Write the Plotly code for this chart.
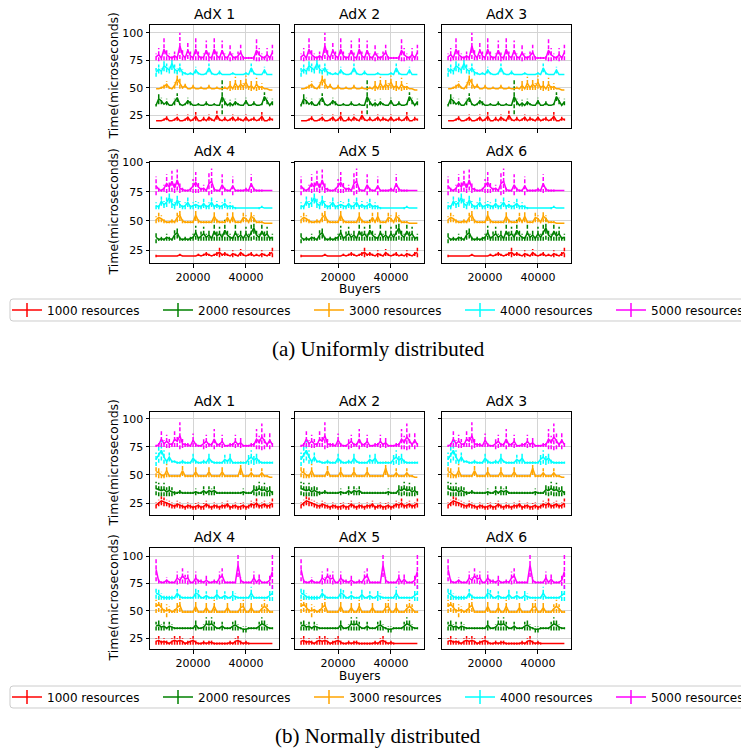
import plotly.graph_objects as go

# ---------------- data ----------------
buyers = [6000, 7000, 8000, 9000, 10000, 11000, 12000, 13000, 14000, 15000,
          16000, 17000, 18000, 19000, 20000, 21000, 22000, 23000, 24000, 25000,
          26000, 27000, 28000, 29000, 30000, 31000, 32000, 33000, 34000, 35000,
          36000, 37000, 38000, 39000, 40000, 41000, 42000, 43000, 44000, 45000,
          46000, 47000, 48000, 49000, 50000]

series_names = ["1000 resources", "2000 resources", "3000 resources",
                "4000 resources", "5000 resources"]

# Uniformly distributed, AdX 1-3
red_u1 = [20,20,20,21,22.5, 20,20,21,23,20, 20,21,23,20,21, 24,20,20,22,20, 23,21,20,25,21, 20,22,20,21,23, 20,22,21,20,23, 20,21,22,20,21, 24,20,20,22,21]
red_u1_err = [0,0,0,1,2, 0,0,1,3,0, 0,1,3,0,1, 4,0,0,2,0, 3,1,0,4,1, 0,2,0,1,3, 0,2,1,0,3, 0,1,2,0,1, 4,0,0,2,1]
green_u1 = [34,40,38,35,37, 34,34,37,41,35, 34,35,38,36,34, 34,35,34,34,36, 34,34,35,34,34, 42,37,34,36,34, 37,35,34,34,38, 34,34,36,34,34, 35,42,38,34,37]
green_u1_err = [1,5,3,0,3, 0,0,3,4,1, 0,1,3,2,0, 0,1,0,0,2, 0,0,1,0,0, 16,3,0,3,0, 3,1,0,0,3, 0,0,2,0,0, 1,4,3,0,3]
orange_u1 = [49,49,50,51,53, 50,49,52,58,54, 50,52,49,49,51, 49,49,50,49,49, 51,49,49,50,49, 49,50,49,52,49, 54,50,53,51,55, 50,52,49,53,50, 51,49,49,48,48]
orange_u1_err = [0,0,1,2,3, 1,0,3,6,5, 1,2,0,0,2, 0,0,1,0,0, 2,0,0,1,0, 0,1,0,5,0, 6,2,5,3,6, 2,5,0,6,2, 3,0,0,0,0]
cyan_u1 = [64,67,65,70,68, 66,72,67,65,68, 64,63,62,63,62, 66,63,62,62,63, 68,63,62,62,64, 62,62,62,62,63, 62,62,62,62,63, 62,68,63,62,62, 62,66,62,62,62]
cyan_u1_err = [4,4,3,5,4, 3,6,4,3,4, 3,1,0,1,0, 3,1,0,0,1, 4,1,0,0,2, 0,0,0,0,1, 0,0,0,0,1, 0,4,1,0,0, 0,3,0,0,0]
magenta_u1 = [78,80,77,85,80, 78,77,79,77,88, 80,77,84,79,77, 85,79,77,78,84, 78,77,85,79,77, 84,78,77,82,78, 77,79,82,77,77, 77,77,77,84,80, 78,77,80,77,82]
magenta_u1_err = [3,6,2,10,5, 3,2,4,2,12, 5,2,8,4,2, 10,4,2,3,9, 4,2,10,4,2, 9,3,2,8,3, 2,4,7,2,1, 1,1,2,10,6, 3,2,6,2,7]

# Uniformly distributed, AdX 4-6
red_u4 = [20,20,20,20,20, 20,20,20,20,21, 20,20,20,20,20, 20,21,20,21,22, 21,20,21,22,23, 21,22,21,20,22, 21,20,23,21,20, 21,22,20,21,20, 22,21,20,22,23]
red_u4_err = [1,0,0,0,0, 0,0,0,0,1, 0,0,0,0,0, 0,1,0,1,2, 1,0,1,2,4, 1,2,1,0,3, 1,0,3,1,0, 1,2,0,1,0, 3,1,0,2,4]
green_u4 = [36,34,35,34,36, 35,34,38,40,35, 34,35,34,35,36, 40,35,37,39,36, 38,35,41,37,39, 36,42,38,36,35, 40,36,38,35,39, 36,40,44,38,36, 41,37,39,35,36]
green_u4_err = [5,1,2,1,3, 2,1,4,5,2, 1,2,1,2,3, 6,2,4,6,3, 5,2,8,4,6, 3,9,5,3,2, 7,3,5,2,6, 3,7,10,5,3, 8,4,6,2,3]
orange_u4 = [51,53,52,50,49, 49,50,49,53,55, 50,49,49,49,49, 55,50,49,49,49, 49,49,54,50,49, 49,49,53,49,54, 49,49,49,53,52, 49,54,52,49,49, 49,48,48,48,48]
orange_u4_err = [3,4,3,2,1, 1,2,1,4,5, 2,1,1,1,1, 5,2,1,1,1, 1,1,5,2,1, 1,1,4,1,5, 1,1,1,4,3, 1,5,3,1,1, 1,0,0,0,0]
cyan_u4 = [63,62,67,64,66, 70,65,63,68,64, 62,63,66,62,63, 64,63,62,65,62, 63,66,62,64,62, 63,65,62,63,62, 61,61,61,61,61, 61,61,61,61,61, 62,61,61,61,61]
cyan_u4_err = [3,2,4,3,4, 5,4,3,5,3, 2,3,4,2,3, 3,3,2,4,2, 3,4,2,3,2, 3,4,2,3,2, 1,0,0,0,0, 0,0,0,0,1, 1,0,0,0,0]
magenta_u4 = [80,77,76,78,82, 79,84,78,85,78, 77,76,76,77,80, 83,79,77,78,76, 82,84,77,76,76, 81,77,76,76,80, 76,76,76,76,77, 76,82,77,76,76, 76,76,76,76,76]
magenta_u4_err = [8,2,1,3,8, 4,9,4,9,4, 2,1,1,2,6, 9,5,2,3,1, 10,11,2,1,1, 9,2,1,1,8, 1,1,1,1,2, 1,8,2,1,1, 1,0,0,0,0]

# Normally distributed, AdX 1-3
red_n1 = [23,25,27,26,25, 24,23,22,24,23, 22,21,23,22,21, 22,23,21,22,24, 22,21,23,22,21, 23,22,24,21,22, 23,21,22,23,21, 22,24,23,25,22, 23,24,22,23,25]
red_n1_err = [3,3,4,4,3, 3,3,2,3,3, 2,2,3,2,2, 3,3,2,3,3, 2,2,3,2,2, 3,2,3,2,2, 3,2,3,3,2, 2,3,3,4,2, 3,3,2,3,4]
green_n1 = [38,37,36,37,35, 36,35,34,34,35, 34,34,34,34,34, 35,34,34,36,34, 36,35,36,34,34, 34,34,34,34,34, 34,34,34,35,34, 34,34,37,36,38, 36,37,35,36,34]
green_n1_err = [6,6,5,6,4, 5,4,2,1,2, 1,1,1,1,1, 3,1,1,4,1, 4,3,4,1,1, 1,1,1,1,1, 1,1,1,3,1, 1,1,5,5,6, 5,6,4,5,2]
orange_n1 = [53,52,50,49,54, 49,49,49,49,49, 54,49,49,49,49, 53,49,49,49,49, 53,49,49,49,49, 53,49,49,49,49, 49,49,56,49,49, 49,52,49,49,49, 52,49,49,48,48]
orange_n1_err = [5,5,3,2,6, 1,1,1,1,1, 5,1,1,1,1, 5,1,1,1,1, 5,1,1,1,1, 5,1,1,1,1, 1,1,6,1,1, 1,4,1,1,1, 4,1,1,0,0]
cyan_n1 = [64,68,72,66,62, 66,62,62,61,61, 62,61,61,61,65, 62,61,61,62,61, 65,62,61,61,61, 61,64,62,65,61, 61,61,61,61,61, 64,66,63,65,62, 61,61,61,61,61]
cyan_n1_err = [6,7,9,6,2, 4,1,1,1,1, 2,1,1,1,4, 2,1,1,2,1, 5,1,1,1,1, 1,4,2,5,1, 1,1,1,1,1, 5,6,4,5,2, 1,1,1,1,1]
magenta_n1 = [76,77,82,78,80, 78,77,82,80,85, 78,77,77,76,81, 77,76,76,78,80, 77,77,82,77,77, 80,76,76,77,77, 80,77,79,76,76, 76,77,77,82,79, 84,80,77,81,77]
magenta_n1_err = [1,2,7,3,6, 4,2,7,5,12, 4,2,2,1,6, 2,1,1,5,6, 2,2,9,2,2, 6,1,1,2,2, 6,2,5,1,1, 1,2,2,9,6, 12,7,2,8,2]

# Normally distributed, AdX 4-6
red_n4 = [22,23,21,22,21, 20,22,23,22,23, 22,20,21,22,23, 21,20,20,21,20, 21,21,20,20,20, 20,20,20,21,20, 22,23,21,20,21, 20,20,20,20,20, 20,20,20,20,20]
red_n4_err = [3,4,2,3,2, 1,3,4,3,4, 3,1,2,3,4, 2,1,1,2,1, 2,2,1,1,1, 1,1,1,2,1, 3,4,2,1,2, 1,0,0,0,0, 0,0,0,0,0]
green_n4 = [36,37,35,36,34, 36,35,34,34,34, 34,34,34,34,34, 37,34,34,35,38, 37,38,36,34,34, 36,34,34,34,36, 37,35,34,33,33, 34,34,34,34,36, 38,37,35,34,34]
green_n4_err = [4,5,3,4,1, 4,3,1,1,1, 1,1,1,1,1, 5,1,1,3,6, 5,6,4,1,1, 4,1,1,1,4, 5,3,1,3,3, 1,1,1,1,4, 6,5,3,1,1]
orange_n4 = [54,56,53,50,50, 51,49,50,53,55, 49,49,49,49,49, 54,49,49,49,53, 49,49,54,49,49, 49,49,53,49,49, 49,49,53,54,49, 49,53,49,49,49, 52,54,52,49,49]
orange_n4_err = [6,7,5,2,6, 3,1,2,5,6, 1,1,1,1,1, 5,1,1,1,5, 1,1,6,1,1, 1,1,5,1,1, 1,1,5,6,1, 1,5,1,1,1, 4,6,4,1,1]
cyan_n4 = [66,65,63,62,62, 62,62,62,66,63, 62,62,62,62,62, 66,65,62,62,64, 62,62,62,65,62, 62,64,62,62,64, 63,62,62,62,62, 62,66,62,62,62, 62,62,62,64,66]
cyan_n4_err = [5,5,3,2,2, 2,2,1,4,2, 1,1,1,1,1, 5,4,1,1,4, 1,1,1,5,1, 1,4,1,1,5, 3,1,1,1,1, 1,6,1,1,1, 1,1,1,5,7]
magenta_n4 = [88,77,76,76,78, 76,76,76,80,78, 82,79,80,76,76, 80,77,77,76,78, 76,76,77,76,80, 82,76,76,76,76, 76,92,78,76,76, 76,76,80,76,79, 76,76,76,78,86]
magenta_n4_err = [11,2,1,1,3, 1,1,1,6,3, 7,4,6,1,1, 6,2,2,1,5, 1,1,2,1,6, 7,1,1,1,1, 1,11,3,1,1, 1,1,6,1,5, 1,1,1,5,16]

# ---------------- checks ----------------
_named = {k: v for k, v in dict(globals()).items()
          if isinstance(v, list) and k not in ("series_names", "buyers")}
_bad = [(k, len(v)) for k, v in _named.items() if len(v) != len(buyers)]
if _bad:
    raise SystemExit("length mismatch: %r" % _bad)

# ---------------- layout helpers ----------------
W, H = 741, 749
def fx(px):
    return px / W
def fy(py):
    return 1 - py / H

colors = ["#ff0000", "#008000", "#ffa500", "#00ffff", "#ff00ff"]
FONT = "DejaVu Sans"

rows = [
    dict(means=[red_u1, green_u1, orange_u1, cyan_u1, magenta_u1],
         errs=[red_u1_err, green_u1_err, orange_u1_err, cyan_u1_err, magenta_u1_err],
         first=1, top=25, bottom=128, yr=[13.4, 107]),
    dict(means=[red_u4, green_u4, orange_u4, cyan_u4, magenta_u4],
         errs=[red_u4_err, green_u4_err, orange_u4_err, cyan_u4_err, magenta_u4_err],
         first=4, top=162, bottom=263, yr=[14, 100.5]),
    dict(means=[red_n1, green_n1, orange_n1, cyan_n1, magenta_n1],
         errs=[red_n1_err, green_n1_err, orange_n1_err, cyan_n1_err, magenta_n1_err],
         first=1, top=412, bottom=515, yr=[14.3, 106.2]),
    dict(means=[red_n4, green_n4, orange_n4, cyan_n4, magenta_n4],
         errs=[red_n4_err, green_n4_err, orange_n4_err, cyan_n4_err, magenta_n4_err],
         first=4, top=548, bottom=649, yr=[15, 107.5]),
]
col_left = [150, 295, 442]
PW = 129
XR = [3700, 52500]


def err_xy(xs, means, errs):
    ex, ey = [], []
    for x, m, e in zip(xs, means, errs):
        if e > 0:
            ex += [x, x, None]
            ey += [m - e, m + e, None]
    return ex, ey


fig = go.Figure()
layout = dict(
    width=W, height=H,
    margin=dict(l=0, r=0, t=0, b=0, autoexpand=False),
    paper_bgcolor="white", plot_bgcolor="white",
    font=dict(family=FONT, size=11, color="black"),
    annotations=[], shapes=[],
)

k = 0
for r, row in enumerate(rows):
    for c in range(3):
        k += 1
        xa = "x%d" % k
        ya = "y%d" % k
        axis_common = dict(
            showline=True, mirror=True, linecolor="black", linewidth=1,
            ticks="outside", ticklen=3.5, tickwidth=1, tickcolor="black",
            showgrid=True, gridcolor="#d4d4d4", gridwidth=1, zeroline=False,
            tickfont=dict(family=FONT, size=11, color="black"),
        )
        layout["xaxis%d" % k] = dict(
            axis_common,
            domain=[fx(col_left[c]), fx(col_left[c] + PW)],
            range=XR, anchor=ya,
            tickvals=[20000, 40000], ticktext=["20000", "40000"],
            showticklabels=(r % 2 == 1),
        )
        layout["yaxis%d" % k] = dict(
            axis_common,
            domain=[fy(row["bottom"]), fy(row["top"])],
            range=row["yr"], anchor=xa,
            tickvals=[25, 50, 75, 100], ticktext=["25", "50", "75", "100"],
            showticklabels=(c == 0),
        )
        for s in range(5):
            ex, ey = err_xy(buyers, row["means"][s], row["errs"][s])
            fig.add_trace(go.Scatter(
                x=ex, y=ey, mode="lines", xaxis=xa, yaxis=ya,
                line=dict(color=colors[s], width=1.5, dash="4px,2px"),
                showlegend=False, hoverinfo="skip"))
            fig.add_trace(go.Scatter(
                x=buyers, y=row["means"][s], mode="lines", xaxis=xa, yaxis=ya,
                line=dict(color=colors[s], width=1.5),
                name=series_names[s], showlegend=False))
        layout["annotations"].append(dict(
            x=fx(col_left[c] + PW / 2), y=fy(row["top"] - 1),
            xref="paper", yref="paper", xanchor="center", yanchor="bottom",
            text="AdX %d" % (row["first"] + c), showarrow=False,
            font=dict(family=FONT, size=14, color="black")))
    layout["annotations"].append(dict(
        x=fx(113), y=fy((row["top"] + row["bottom"]) / 2),
        xref="paper", yref="paper", xanchor="center", yanchor="middle",
        text="Time(microseconds)", textangle=-90, showarrow=False,
        font=dict(family=FONT, size=12.5, color="black")))

for by in (289, 676):
    layout["annotations"].append(dict(
        x=fx(col_left[1] + PW / 2), y=fy(by), xref="paper", yref="paper",
        xanchor="center", yanchor="middle", text="Buyers", showarrow=False,
        font=dict(family=FONT, size=12, color="black")))

for text, cy in (("(a) Uniformly distributed", 349), ("(b) Normally distributed", 736)):
    layout["annotations"].append(dict(
        x=fx(378), y=fy(cy), xref="paper", yref="paper",
        xanchor="center", yanchor="middle", text=text, showarrow=False,
        font=dict(family="Liberation Serif", size=21, color="black")))


# legend frames (decoration, rounded corners)
def rounded_box(x0, y0, x1, y1, rad):
    X = fx
    Y = fy
    return ("M %f,%f L %f,%f Q %f,%f %f,%f L %f,%f Q %f,%f %f,%f "
            "L %f,%f Q %f,%f %f,%f L %f,%f Q %f,%f %f,%f Z") % (
        X(x0 + rad), Y(y0), X(x1 - rad), Y(y0), X(x1), Y(y0), X(x1), Y(y0 + rad),
        X(x1), Y(y1 - rad), X(x1), Y(y1), X(x1 - rad), Y(y1),
        X(x0 + rad), Y(y1), X(x0), Y(y1), X(x0), Y(y1 - rad),
        X(x0), Y(y0 + rad), X(x0), Y(y0), X(x0 + rad), Y(y0))


for top in (299, 686):
    layout["shapes"].append(dict(
        type="path", xref="paper", yref="paper",
        path=rounded_box(10, top, 760, top + 22, 3),
        line=dict(color="#cccccc", width=1), fillcolor="white", layer="below"))

# legend entries
for lg in ("legend", "legend2"):
    for s in range(5):
        fig.add_trace(go.Scatter(
            x=[None], y=[None], mode="lines+markers", name=series_names[s],
            line=dict(color=colors[s], width=1.5),
            marker=dict(symbol="line-ns", size=10, color=colors[s],
                        line=dict(color=colors[s], width=1.5)),
            legend=lg, showlegend=True, xaxis="x1", yaxis="y1",
            legendwidth=(90 if s == 4 else None)))

leg_common = dict(
    orientation="h", xanchor="left", yanchor="middle",
    entrywidth=106, entrywidthmode="pixels",
    font=dict(family=FONT, size=12, color="black"),
    bgcolor="rgba(0,0,0,0)", borderwidth=0,
    itemwidth=30, traceorder="normal",
)
layout["legend"] = dict(leg_common, x=fx(7), y=fy(310))
layout["legend2"] = dict(leg_common, x=fx(7), y=fy(697))

fig.update_layout(**layout)
fig.write_html("out.html", config={"displayModeBar": False},
               post_script="document.body.style.margin='0';")
